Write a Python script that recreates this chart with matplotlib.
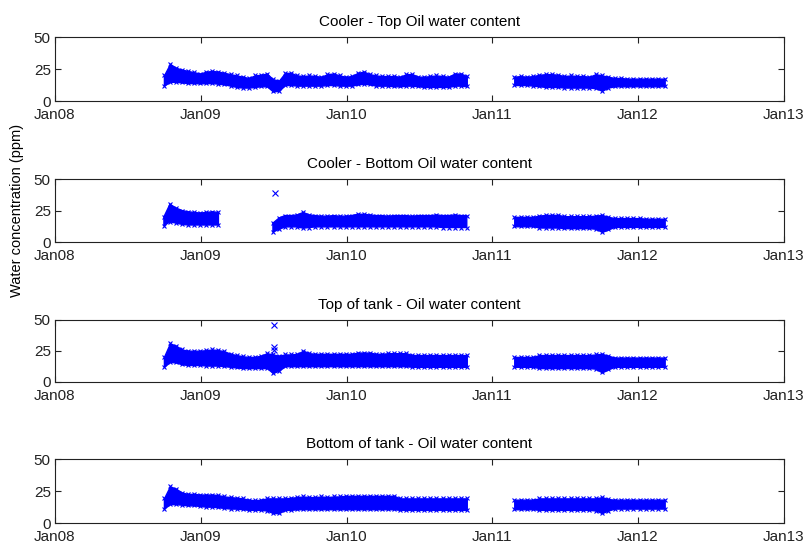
import numpy as np
import pandas as pd
import matplotlib
matplotlib.use("Agg")
import matplotlib.pyplot as plt
import matplotlib.dates as mdates

plt.rcParams['font.family'] = ['Liberation Sans', 'DejaVu Sans']

# sample dates: two logging campaigns, evenly spaced bins
dates_a = pd.date_range('2008-09-30', '2010-10-29', periods=51)
dates_b = pd.date_range('2011-02-25', '2012-03-08', periods=25)
nan = np.nan

titles = [
    'Cooler - Top Oil water content',
    'Cooler - Bottom Oil water content',
    'Top of tank - Oil water content',
    'Bottom of tank - Oil water content',
]

# per-bin min / max water content (ppm)
cooler_top_lo_a = [12, 15, 15, 14.5, 14, 14, 13.8, 14, 14, 13.5,
                   13, 12, 11, 10.5, 10.5, 11, 11.5, 11.5, 7.5, 8,
                   12.5, 12.5, 12, 12, 12, 12, 12, 12.5, 12.5, 12,
                   12, 12, 13, 13.5, 13, 12, 12, 12, 11.5, 11.5,
                   12, 12, 11.5, 11, 11, 11, 11, 11, 12, 12,
                   11.5]
cooler_top_hi_a = [20, 29, 26, 24.5, 23.5, 22.5, 21.5, 23, 23.5, 23,
                   22, 21, 20, 19, 18, 20, 20.5, 21.5, 17, 16,
                   22, 22, 20, 19.5, 20, 19.5, 19, 21, 21.5, 20,
                   19, 19.5, 22, 23, 21, 20, 19.5, 19.5, 19.5, 19,
                   21, 21, 19, 19, 19.5, 20, 19.5, 19, 21.5, 21.5,
                   19.5]
cooler_top_lo_b = [12.5, 12.5, 12.5, 12, 11.5, 11, 11, 11, 10.5, 10.5,
                   10.5, 10.5, 10.5, 10, 8, 10.5, 11.5, 11.5, 11.5, 11.5,
                   11.5, 11.5, 11.5, 11.5, 11.5]
cooler_top_hi_b = [19, 19.5, 19, 19.5, 20.5, 21, 21, 20.5, 19.5, 20,
                   19.5, 19.5, 19, 21, 20, 19, 18, 18, 17.5, 17.5,
                   17.5, 17.5, 17.5, 17.5, 17.5]

cooler_bot_lo_a = [13, 16, 15, 14, 13.5, 13.5, 13.5, 13.5, 13.5, 13.5,
                   nan, nan, nan, nan, nan, nan, nan, nan, 8, 10,
                   12, 12, 12, 11, 11.5, 12, 12, 12, 12, 12,
                   12, 12, 12, 12, 12, 12, 12, 12, 12, 12,
                   12, 12, 12, 12, 12, 12, 11.5, 11.5, 11.5, 11.5,
                   11.5]
cooler_bot_hi_a = [20, 30, 27, 25, 24, 23.5, 23, 23.5, 24, 23.5,
                   nan, nan, nan, nan, nan, nan, nan, nan, 15, 19,
                   21, 21, 21.5, 23.5, 21.5, 21, 20.5, 20.5, 21, 20.5,
                   20.5, 21, 22, 22, 21.5, 21, 21, 20.5, 21, 21,
                   21, 20.5, 21, 21, 21, 21.5, 21, 21, 21.5, 21,
                   21]
cooler_bot_lo_b = [12.5, 12.5, 12.5, 12.5, 11.5, 11.5, 11.5, 11.5, 11, 11,
                   11, 11, 11, 10.5, 8, 10, 12, 12, 12, 12,
                   12, 12, 12, 12, 12]
cooler_bot_hi_b = [20, 20, 20, 20, 21, 21.5, 21.5, 21.5, 20.5, 20.5,
                   20.5, 20.5, 20.5, 21, 21.5, 20, 19, 19, 19, 19,
                   19, 18.5, 18.5, 18.5, 18.5]

tank_top_lo_a = [12, 16, 15.5, 14, 13.5, 13.5, 13.5, 13, 13, 13,
                 12.5, 12, 11.5, 11, 11, 11, 11, 11, 7, 9,
                 12.5, 12.5, 12.5, 12.5, 12.5, 12.5, 12.5, 12.5, 12.5, 12.5,
                 12.5, 12.5, 12.5, 12.5, 12.5, 12.5, 12.5, 12.5, 12.5, 12.5,
                 12.5, 12, 12, 12, 12, 12, 12, 12, 12, 12,
                 12]
tank_top_hi_a = [20, 31, 29, 26, 25, 25, 25, 25.5, 26, 25.5,
                 24.5, 22.5, 21.5, 20.5, 20, 20, 21, 23, 22, 21,
                 22, 22, 22.5, 25, 23, 22.5, 22.5, 22.5, 22.5, 22.5,
                 22.5, 22.5, 23.5, 23.5, 23.5, 22.5, 22.5, 23, 23, 23,
                 23, 21.5, 21.5, 21.5, 21.5, 21.5, 21.5, 21.5, 21.5, 21.5,
                 21.5]
tank_top_lo_b = [12, 12, 12, 12, 11, 11, 11, 11, 11, 11,
                 11, 11, 11, 10.5, 7.5, 10, 12, 12, 12, 12,
                 12, 12, 12, 12, 12]
tank_top_hi_b = [20, 20, 20, 20, 21.5, 21.5, 21.5, 21.5, 21.5, 21.5,
                 21.5, 21.5, 21.5, 22, 22.5, 21, 19.5, 19.5, 19.5, 19.5,
                 19.5, 19.5, 19.5, 19.5, 19.5]

tank_bot_lo_a = [11.5, 15, 15, 14.5, 14, 14, 13.5, 13, 13, 12.5,
                 12, 11.5, 11.5, 11, 10.5, 10.5, 10.5, 10, 8, 8,
                 10.5, 10.5, 11, 11, 11, 11, 11, 11, 11, 11,
                 11, 11, 11, 11, 11, 11, 11, 11, 11, 10.5,
                 10.5, 10.5, 10.5, 10.5, 10.5, 10.5, 10.5, 10.5, 10.5, 10.5,
                 10.5]
tank_bot_hi_a = [19.5, 29, 27, 24, 23, 23, 22.5, 22.5, 22.5, 22,
                 21, 20.5, 20, 19.5, 18.5, 18, 18.5, 19.5, 19.5, 19.5,
                 19.5, 20, 20.5, 21, 20.5, 20.5, 21, 20.5, 21, 21,
                 21.5, 21.5, 21.5, 21.5, 21.5, 21.5, 21.5, 21.5, 21.5, 19.5,
                 19.5, 19.5, 19.5, 19.5, 19.5, 19.5, 19.5, 19.5, 19.5, 19.5,
                 19.5]
tank_bot_lo_b = [11, 11, 11, 11, 10.5, 10.5, 10.5, 10.5, 10.5, 10.5,
                 10.5, 10.5, 10.5, 10, 8, 10, 11.5, 11.5, 11.5, 11.5,
                 11.5, 11.5, 11.5, 11.5, 11.5]
tank_bot_hi_b = [18.5, 18.5, 18.5, 18.5, 19.5, 19.5, 19.5, 19.5, 19.5, 19.5,
                 19.5, 19.5, 19.5, 19.5, 20.5, 19, 18.5, 18.5, 18.5, 18.5,
                 18.5, 18.5, 18.5, 18.5, 18.5]

# isolated spurious readings
cooler_bot_spike_dates = ['2009-07-06']
cooler_bot_spike_vals = [39]
tank_top_spike_dates = ['2009-07-02', '2009-07-02', '2009-07-02']
tank_top_spike_vals = [46, 28, 25.5]

series = [
    (cooler_top_lo_a, cooler_top_hi_a, cooler_top_lo_b, cooler_top_hi_b, [], []),
    (cooler_bot_lo_a, cooler_bot_hi_a, cooler_bot_lo_b, cooler_bot_hi_b,
     cooler_bot_spike_dates, cooler_bot_spike_vals),
    (tank_top_lo_a, tank_top_hi_a, tank_top_lo_b, tank_top_hi_b,
     tank_top_spike_dates, tank_top_spike_vals),
    (tank_bot_lo_a, tank_bot_hi_a, tank_bot_lo_b, tank_bot_hi_b, [], []),
]

BLUE = (0, 0, 1)


def draw_band(ax, dates, lo, hi):
    # shaded envelope between min and max reading of each bin,
    # with the bin extremes marked on its edges
    lo = np.asarray(lo, dtype=float)
    hi = np.asarray(hi, dtype=float)
    ok = ~np.isnan(lo)
    ax.fill_between(dates, lo, hi, where=ok, facecolor=BLUE,
                    edgecolor=BLUE, linewidth=1.0)
    ax.plot(dates[ok], lo[ok], 'x', color=BLUE, ms=3, mew=0.8)
    ax.plot(dates[ok], hi[ok], 'x', color=BLUE, ms=3, mew=0.8)


fig = plt.figure(figsize=(8.04, 5.44), dpi=100)

# axes boxes in figure fraction
boxes = [
    [0.0684, 0.8143, 0.9067, 0.1176],
    [0.0684, 0.5551, 0.9067, 0.1158],
    [0.0684, 0.2983, 0.9067, 0.1140],
    [0.0684, 0.0380, 0.9067, 0.1176],
]

for box, title, (lo_a, hi_a, lo_b, hi_b, sp_d, sp_v) in zip(boxes, titles, series):
    ax = fig.add_axes(box)
    draw_band(ax, dates_a, lo_a, hi_a)
    draw_band(ax, dates_b, lo_b, hi_b)
    if sp_d:
        ax.plot(pd.to_datetime(sp_d), sp_v, 'x', color=BLUE, ms=5, mew=0.8)

    ax.set_xlim(pd.Timestamp('2008-01-01'), pd.Timestamp('2013-01-01'))
    ax.set_ylim(0, 50)
    ax.set_yticks([0, 25, 50])
    ax.xaxis.set_major_locator(mdates.YearLocator())
    ax.xaxis.set_major_formatter(mdates.DateFormatter('%b%y'))
    ax.tick_params(direction='in', top=True, right=True, length=4,
                   width=0.8, labelsize=11, colors='#222222')
    ax.tick_params(axis='x', pad=5)
    ax.tick_params(axis='y', pad=3)
    for s in ax.spines.values():
        s.set_linewidth(0.8)
        s.set_color('#222222')
    ax.set_title(title, fontsize=11, pad=8)

fig.text(0.021, 0.614, 'Water concentration (ppm)', rotation=90,
         va='center', ha='center', fontsize=10.5)

fig.savefig('out.png', dpi=100)
